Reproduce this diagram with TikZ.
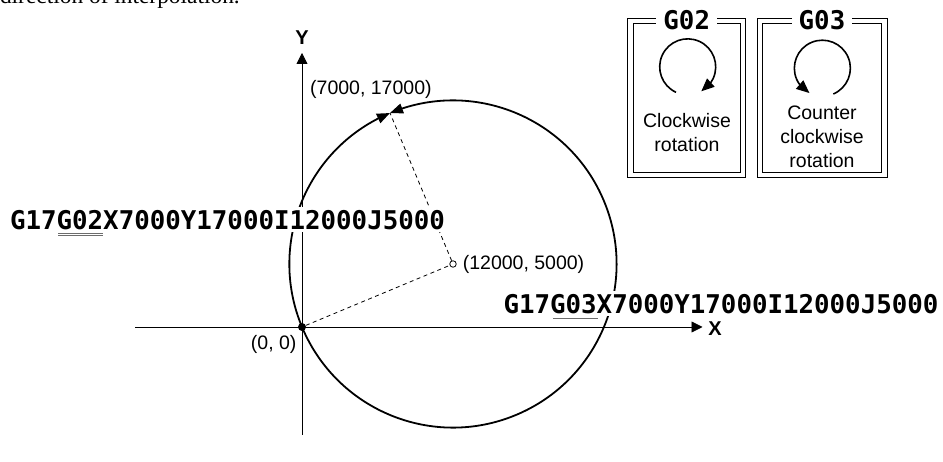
\documentclass[tikz,border=0pt]{standalone}
\usepackage{fontspec}
\setmainfont{Liberation Sans}
\newfontfamily\gcodefont{DejaVu Sans Mono}
\newfontfamily\bodyfont{Liberation Serif}
\usetikzlibrary{arrows.meta,bending,positioning}

\begin{document}
\begin{tikzpicture}[
    x=1pt, y=1pt,
    node distance=2pt and 3pt,
    font=\fontsize{19.5}{24}\selectfont,
    text centered,
    axis/.style={line width=.8pt, -{Triangle[length=11pt,width=11pt]}},
    radius line/.style={line width=.8pt, dashed, dash pattern=on 4pt off 3.5pt},
    path line/.style={line width=1.8pt, -{Triangle[length=13pt,width=10pt]}},
    turn line/.style={line width=1.6pt, -{Triangle[length=13pt,width=11pt]}},
    underline/.style={gray!85!black, line width=.9pt, double, double distance=1pt},
    gcode/.style={font=\gcodefont\bfseries\fontsize{25.8}{26}\selectfont, fill=white, inner sep=0pt, minimum height=25pt},
    title/.style={font=\gcodefont\bfseries\fontsize{25.8}{26}\selectfont, fill=white, inner xsep=7pt, inner ysep=0pt},
    frame/.style={draw, line width=1pt, double, double distance=4.5pt, minimum height=154.25pt, inner sep=0pt},
    axis name/.style={font=\bfseries\fontsize{20}{24}\selectfont, inner sep=0pt}
  ]
  \useasboundingbox (0,0) rectangle (943,462);

  \node [font=\bodyfont\fontsize{23.4}{24}\selectfont, anchor=base east, inner sep=0pt] (head) at (240,458.7) {direction of interpolation.};

  % axes
  \coordinate (xs) at (135,135);
  \coordinate (xe) at (702.5,135);
  \coordinate (ys) at (302,27);
  \coordinate (ye) at (302,409);
  \draw [axis] (xs) -- (xe);
  \draw [axis] (ys) -- (ye);
  \node [axis name] (X) at (715,133) {X};
  \node [axis name] (Y) at (302,424) {Y};

  % points
  \node [circle, fill=black, inner sep=0pt, minimum size=8pt] (O) at (302,135) {};
  \node [circle, draw, fill=white, line width=.8pt, inner sep=0pt, minimum size=6.5pt] (C) at (453,198) {};
  \coordinate (E) at (390,349);

  \node [below left=2pt and -1pt of O] (t0) {(0, 0)};
  \node [right=3pt of C, inner xsep=3pt] (t1) {(12000, 5000)};
  \node [anchor=west, inner xsep=0pt] (t2) at (310,373) {(7000, 17000)};

  \draw [radius line] (O) -- (C);
  \draw [radius line] (C) -- (E);
  \draw [path line] (O.center) arc [start angle=202.65, end angle=112.65, radius=163.6];
  \draw [path line] (O.center) arc [start angle=202.65, end angle=472.65, radius=163.6];

  % programs
  \node [gcode] (A) at (227.5,242) {G17G02X7000Y17000I12000J5000};
  \node [gcode] (B) at (721,158) {G17G03X7000Y17000I12000J5000};
  \coordinate (a1) at (58,227.5);
  \coordinate (a2) at (103,227.5);
  \coordinate (b1) at (552.7,144);
  \coordinate (b2) at (597.7,144);
  \draw [underline] (a1) -- (a2);
  \draw [underline] (b1) -- (b2);

  % rotation boxes
  \node [frame, minimum width=112.75pt] (P) at (686.75,364) {};
  \node [frame, minimum width=124.5pt] (Q) at (822,364) {};
  \node [title] (p0) at (P.north) {G02};
  \node [title] (q0) at (Q.north) {G03};

  \coordinate (pa) at (676,369.7);
  \coordinate (qa) at (833.3,368);
  \draw [turn line] (pa) arc [start angle=245.3, end angle=-61, radius=28];
  \draw [turn line] (qa) arc [start angle=-67, end angle=242.5, radius=28];

  \node [align=center, inner sep=0pt] (p1) at (687,329) {Clockwise\\rotation};
  \node [align=center, inner sep=0pt] (q1) at (822,325) {Counter\\clockwise\\rotation};
\end{tikzpicture}
\end{document}
